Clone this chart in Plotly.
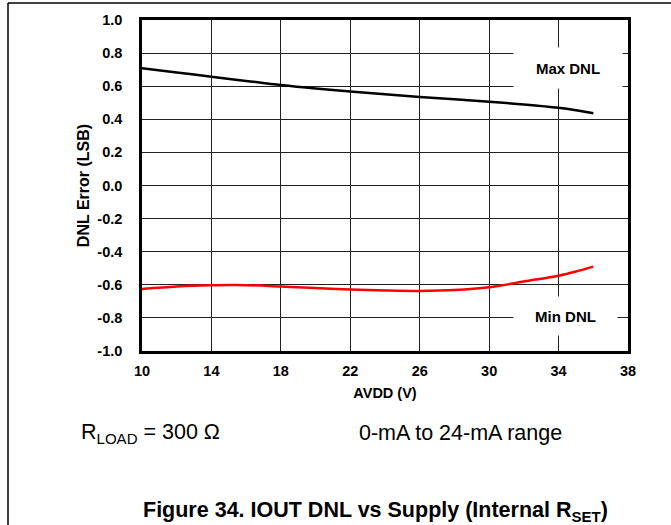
import plotly.graph_objects as go

# ---- data ----
avdd = [10, 12, 14, 16, 18, 20, 22, 24, 26, 28, 30, 32, 34, 35, 36]
max_dnl = [0.708, 0.683, 0.657, 0.632, 0.607, 0.586, 0.568, 0.551, 0.535, 0.521, 0.506, 0.490, 0.470, 0.455, 0.436]
min_dnl = [-0.625, -0.610, -0.603, -0.602, -0.611, -0.620, -0.628, -0.634, -0.637, -0.632, -0.615, -0.580, -0.545, -0.520, -0.490]

x_ticks = [10, 14, 18, 22, 26, 30, 34, 38]
y_ticks = [-1.0, -0.8, -0.6, -0.4, -0.2, 0.0, 0.2, 0.4, 0.6, 0.8, 1.0]

W, H = 671, 525
L, R, T, B = 142, 43, 20, 174
PW, PH = W - L - R, H - T - B

def px(x):
    return (x - L) / PW

def py(y):
    return (H - B - y) / PH

FONT = "Arial, 'Liberation Sans', Helvetica, sans-serif"

fig = go.Figure()
fig.add_trace(go.Scatter(x=avdd, y=max_dnl, mode="lines", line=dict(color="black", width=2.5, shape="spline"),
                         showlegend=False, hoverinfo="skip"))
fig.add_trace(go.Scatter(x=avdd, y=min_dnl, mode="lines", line=dict(color="#ff0000", width=2.5, shape="spline"),
                         showlegend=False, hoverinfo="skip"))

fig.update_layout(
    width=W, height=H,
    margin=dict(l=L, r=R, t=T, b=B, pad=0),
    paper_bgcolor="white", plot_bgcolor="white",
    font=dict(family=FONT, color="black"),
    showlegend=False,
)
fig.update_xaxes(range=[10, 38], tickvals=x_ticks, ticktext=[str(v) for v in x_ticks],
                 showgrid=True, gridcolor="#222", gridwidth=1, zeroline=False,
                 showline=True, linecolor="black", linewidth=2.5, mirror=True,
                 ticks="", ticklabelstandoff=5,
                 tickfont=dict(size=14.5, family=FONT, weight="bold"),
                 title=dict(text="<b>AVDD (V)</b>", font=dict(size=14.5), standoff=10))
fig.update_yaxes(range=[-1, 1], tickvals=y_ticks, ticktext=[f"{v:.1f}" for v in y_ticks],
                 showgrid=True, gridcolor="#222", gridwidth=1, zeroline=False,
                 showline=True, linecolor="black", linewidth=2.5, mirror=True,
                 ticks="", ticklabelstandoff=14,
                 tickfont=dict(size=14.5, family=FONT, weight="bold"),
                 title=dict(text="<b>DNL Error (LSB)</b>", font=dict(size=16), standoff=4))

fig.add_annotation(x=34.54, y=0.71, xref="x", yref="y", text="<b>Max DNL</b>", showarrow=False,
                   font=dict(size=15), bgcolor="white", width=108, height=40, borderpad=0)
fig.add_annotation(x=34.4, y=-0.789, xref="x", yref="y", text="<b>Min DNL</b>", showarrow=False,
                   font=dict(size=15), bgcolor="white", width=103, height=38, borderpad=0)

fig.add_annotation(x=px(79), y=py(433), xref="paper", yref="paper", xanchor="left", yanchor="middle",
                   text="R<sub>LOAD</sub> = 300 Ω", showarrow=False, font=dict(size=21.5))
fig.add_annotation(x=px(357), y=py(433), xref="paper", yref="paper", xanchor="left", yanchor="middle",
                   text="0-mA to 24-mA range", showarrow=False, font=dict(size=21.5))
fig.add_annotation(x=px(375), y=py(511), xref="paper", yref="paper", xanchor="center", yanchor="middle",
                   text="<b>Figure 34. IOUT DNL vs Supply (Internal R<sub>SET</sub>)</b>", showarrow=False,
                   font=dict(size=21.5))

# outer frame (top and left edges)
fig.add_shape(type="line", xref="paper", yref="paper", x0=px(8), x1=px(671), y0=py(3), y1=py(3),
              line=dict(color="black", width=1.5))
fig.add_shape(type="line", xref="paper", yref="paper", x0=px(8), x1=px(8), y0=py(3), y1=py(525),
              line=dict(color="black", width=1.5))

fig.write_html("out.html", config={"displayModeBar": False},
               post_script="document.body.style.margin='0';document.body.style.padding='0';")
